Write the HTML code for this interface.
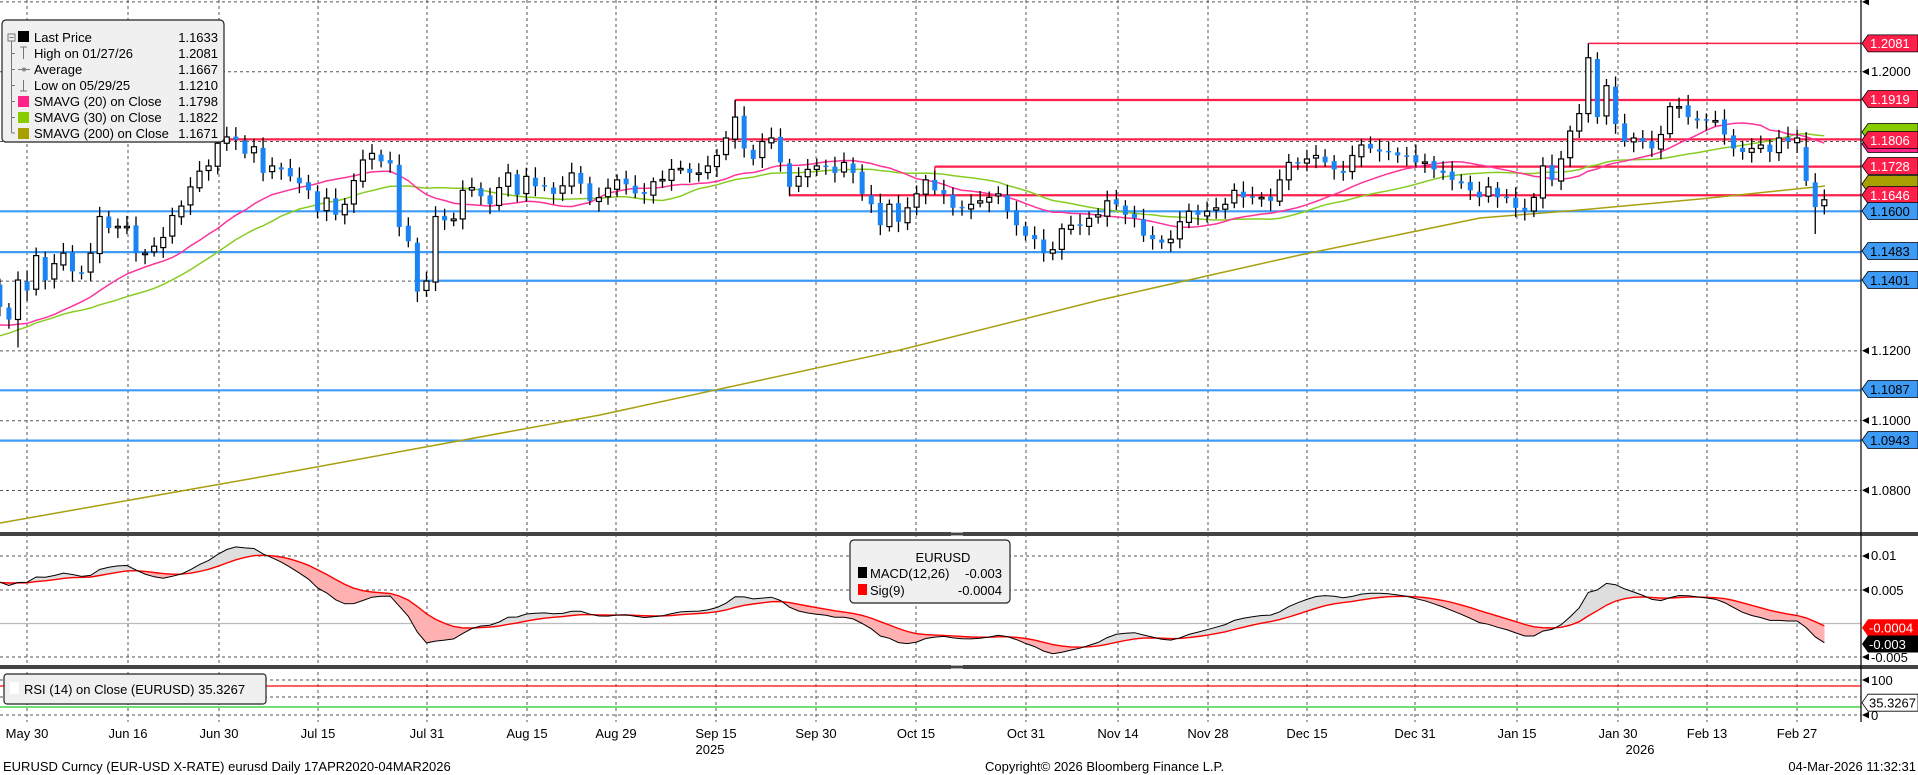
<!DOCTYPE html>
<html><head><meta charset="utf-8"><style>
html,body{margin:0;padding:0;background:#fff;}
svg{display:block;font-family:"Liberation Sans",sans-serif;}
</style></head><body>
<svg id="s" width="1918" height="775" viewBox="0 0 1918 775" xmlns="http://www.w3.org/2000/svg">
<rect x="0" y="0" width="1918" height="775" fill="#fff"/>
<g id="grid"></g>
<g id="levels"></g>
<g id="main"></g>
<g id="macd"></g>
<!-- separators -->
<rect x="0" y="532" width="1918" height="4" fill="#444"/>
<rect x="0" y="665" width="1918" height="4" fill="#444"/>
<g stroke="#aaa" stroke-width="1"><line x1="951" y1="532.5" x2="963" y2="532.5"/><line x1="951" y1="535.5" x2="963" y2="535.5"/><line x1="951" y1="665.5" x2="963" y2="665.5"/><line x1="951" y1="668.5" x2="963" y2="668.5"/></g>
<!-- RSI lines -->
<line x1="0" y1="686" x2="1861" y2="686" stroke="#ff0000" stroke-width="1.3"/>
<line x1="0" y1="707" x2="1861" y2="707" stroke="#22cc22" stroke-width="1.3"/>
<!-- right axis -->
<line x1="1861" y1="0" x2="1861" y2="722" stroke="#000" stroke-width="1.2"/>
<g fill="#000">
<polygon points="1862,1.9 1869,-1.5 1869,5.3"/>
<polygon points="1862,71.7 1869,68.3 1869,75.1"/>
<polygon points="1862,350.7 1869,347.3 1869,354.1"/>
<polygon points="1862,420.5 1869,417.1 1869,423.9"/>
<polygon points="1862,490.3 1869,486.9 1869,493.7"/>
<polygon points="1862,556 1869,552.6 1869,559.4"/>
<polygon points="1862,590 1869,586.6 1869,593.4"/>
<polygon points="1862,657 1869,653.6 1869,660.4"/>
<polygon points="1862,680 1869,676.6 1869,683.4"/>
<polygon points="1862,715 1869,711.6 1869,718.4"/>
</g>
<g font-size="13" fill="#000">
<text x="1871" y="76">1.2000</text>
<text x="1871" y="355">1.1200</text>
<text x="1871" y="425">1.1000</text>
<text x="1871" y="495">1.0800</text>
<text x="1871" y="560">0.01</text>
<text x="1871" y="595">0.005</text>
<text x="1871" y="662">-0.005</text>
<text x="1871" y="685">100</text>
<text x="1871" y="720">0</text>
</g>
<!-- tags -->
<g font-size="13">
<polygon points="1862,132 1868,123.5 1918,123.5 1918,140.5 1868,140.5" fill="#88cc00" stroke="#000" stroke-width="0.8"/>
<polygon points="1862,144 1868,135.5 1918,135.5 1918,152.5 1868,152.5" fill="#ff2288" stroke="#000" stroke-width="0.8"/>
<polygon points="1862,184 1868,175.5 1918,175.5 1918,192.5 1868,192.5" fill="#a8a000" stroke="#000" stroke-width="0.8"/>
<g fill="#ff1f4b" stroke="#000" stroke-width="0.8">
<polygon points="1862,43.4 1868,34.9 1918,34.9 1918,51.9 1868,51.9"/>
<polygon points="1862,99 1868,90.5 1918,90.5 1918,107.5 1868,107.5"/>
<polygon points="1862,140 1868,131.5 1918,131.5 1918,148.5 1868,148.5"/>
<polygon points="1862,166 1868,157.5 1918,157.5 1918,174.5 1868,174.5"/>
<polygon points="1862,195 1868,186.5 1918,186.5 1918,203.5 1868,203.5"/>
</g>
<g fill="#3d9bf5" stroke="#000" stroke-width="0.8">
<polygon points="1862,211 1868,202.5 1918,202.5 1918,219.5 1868,219.5"/>
<polygon points="1862,251 1868,242.5 1918,242.5 1918,259.5 1868,259.5"/>
<polygon points="1862,280 1868,271.5 1918,271.5 1918,288.5 1868,288.5"/>
<polygon points="1862,389 1868,380.5 1918,380.5 1918,397.5 1868,397.5"/>
<polygon points="1862,440 1868,431.5 1918,431.5 1918,448.5 1868,448.5"/>
</g>
<g fill="#fff">
<text x="1870" y="48">1.2081</text>
<text x="1870" y="104">1.1919</text>
<text x="1870" y="145">1.1806</text>
<text x="1870" y="171">1.1728</text>
<text x="1870" y="200">1.1646</text>
</g>
<g fill="#000">
<text x="1870" y="216">1.1600</text>
<text x="1870" y="256">1.1483</text>
<text x="1870" y="285">1.1401</text>
<text x="1870" y="394">1.1087</text>
<text x="1870" y="445">1.0943</text>
</g>
<polygon points="1862,627.7 1868,619.2 1918,619.2 1918,636.2 1868,636.2" fill="#ff0000"/>
<text x="1869" y="632.5" fill="#fff">-0.0004</text>
<polygon points="1862,644 1868,635.5 1918,635.5 1918,652.5 1868,652.5" fill="#000"/>
<text x="1869" y="649" fill="#fff">-0.003</text>
<polygon points="1862,702.7 1868,694.2 1918,694.2 1918,711.2 1868,711.2" fill="#fff" stroke="#000" stroke-width="0.8"/>
<text x="1869" y="707.5" fill="#000">35.3267</text>
</g>
<!-- main legend -->
<rect x="2" y="20" width="222" height="122" rx="4" fill="#f0f0f0" stroke="#222" stroke-width="1.2"/>
<g stroke="#777" stroke-width="1" fill="none">
<rect x="8" y="34" width="7" height="7"/><line x1="9.5" y1="37.5" x2="13.5" y2="37.5"/>
<line x1="11.5" y1="41" x2="11.5" y2="133"/>
<line x1="11.5" y1="53.5" x2="15" y2="53.5"/><line x1="11.5" y1="69.5" x2="15" y2="69.5"/>
<line x1="11.5" y1="85.5" x2="15" y2="85.5"/><line x1="11.5" y1="101.5" x2="15" y2="101.5"/>
<line x1="11.5" y1="117.5" x2="15" y2="117.5"/><line x1="11.5" y1="133" x2="15" y2="133"/>
<line x1="23.5" y1="47" x2="23.5" y2="59"/><line x1="20" y1="47" x2="27" y2="47"/>
<line x1="18" y1="69.5" x2="30" y2="69.5"/><circle cx="24" cy="69.5" r="1.5"/>
<line x1="23.5" y1="80" x2="23.5" y2="91"/><line x1="20" y1="91" x2="27" y2="91"/>
</g>
<rect x="18" y="31" width="11" height="11" fill="#000"/>
<rect x="18" y="96" width="11" height="11" fill="#ff2288"/>
<rect x="18" y="112" width="11" height="11" fill="#88cc00"/>
<rect x="18" y="128" width="11" height="11" fill="#a8a000"/>
<g font-size="13" fill="#000">
<text x="34" y="42">Last Price</text><text x="218" y="42" text-anchor="end">1.1633</text>
<text x="34" y="58">High on 01/27/26</text><text x="218" y="58" text-anchor="end">1.2081</text>
<text x="34" y="74">Average</text><text x="218" y="74" text-anchor="end">1.1667</text>
<text x="34" y="90">Low on 05/29/25</text><text x="218" y="90" text-anchor="end">1.1210</text>
<text x="34" y="106">SMAVG (20)  on Close</text><text x="218" y="106" text-anchor="end">1.1798</text>
<text x="34" y="122">SMAVG (30)  on Close</text><text x="218" y="122" text-anchor="end">1.1822</text>
<text x="34" y="138">SMAVG (200)  on Close</text><text x="218" y="138" text-anchor="end">1.1671</text>
</g>
<!-- MACD legend -->
<rect x="850" y="540" width="160" height="63" rx="4" fill="#f0f0f0" stroke="#222" stroke-width="1.2"/>
<g font-size="13" fill="#000">
<text x="943" y="562" text-anchor="middle">EURUSD</text>
<rect x="858" y="567" width="9" height="11" fill="#000"/>
<text x="870" y="578">MACD(12,26)</text><text x="1002" y="578" text-anchor="end">-0.003</text>
<rect x="858" y="584" width="9" height="11" fill="#ff0000"/>
<text x="870" y="595">Sig(9)</text><text x="1002" y="595" text-anchor="end">-0.0004</text>
</g>
<!-- RSI legend -->
<rect x="4" y="674" width="262" height="30" rx="3" fill="#f0f0f0" stroke="#222" stroke-width="1.2"/>
<rect x="10" y="682" width="9" height="12" fill="#fff"/>
<text x="24" y="694" font-size="13" fill="#000">RSI (14)  on Close (EURUSD) 35.3267</text>
<!-- date labels -->
<g font-size="13" fill="#000" text-anchor="middle">
<text x="27" y="738">May 30</text><text x="128" y="738">Jun 16</text><text x="219" y="738">Jun 30</text>
<text x="318" y="738">Jul 15</text><text x="427" y="738">Jul 31</text><text x="527" y="738">Aug 15</text>
<text x="616" y="738">Aug 29</text><text x="716" y="738">Sep 15</text><text x="816" y="738">Sep 30</text>
<text x="916" y="738">Oct 15</text><text x="1026" y="738">Oct 31</text><text x="1118" y="738">Nov 14</text>
<text x="1208" y="738">Nov 28</text><text x="1307" y="738">Dec 15</text><text x="1415" y="738">Dec 31</text>
<text x="1517" y="738">Jan 15</text><text x="1618" y="738">Jan 30</text><text x="1707" y="738">Feb 13</text>
<text x="1797" y="738">Feb 27</text>
<text x="710" y="754">2025</text><text x="1640" y="754">2026</text>
</g>
<g font-size="13" fill="#000">
<text x="3" y="771">EURUSD Curncy (EUR-USD X-RATE) eurusd Daily 17APR2020-04MAR2026</text>
<text x="985" y="771">Copyright© 2026 Bloomberg Finance L.P.</text>
<text x="1916" y="771" text-anchor="end">04-Mar-2026 11:32:31</text>
</g>
</svg>
<script>
(function(){
var NS="http://www.w3.org/2000/svg";
function el(p,t,a){var e=document.createElementNS(NS,t);for(var k in a)e.setAttribute(k,a[k]);p.appendChild(e);return e;}
var G=document.getElementById('grid'),L=document.getElementById('levels'),M=document.getElementById('main'),C=document.getElementById('macd');
function py(p){return 71.7+(1.2-p)*3490;}
function my(m){return 623.5-m*6740;}
// grid
var gx=[27,128,219,318,427,527,616,716,816,916,1026,1118,1208,1307,1415,1517,1618,1707,1797];
var ga={stroke:"#555","stroke-width":1,"stroke-dasharray":"3,3"};
gx.forEach(function(x){el(G,'line',Object.assign({x1:x,y1:0,x2:x,y2:722},ga));});
[1.22,1.20,1.18,1.16,1.14,1.12,1.10,1.08].forEach(function(p){el(G,'line',Object.assign({x1:0,y1:py(p),x2:1861,y2:py(p)},ga));});
[556,590,657,680,697,715].forEach(function(y){el(G,'line',Object.assign({x1:0,y1:y,x2:1861,y2:y},ga));});
el(G,'line',{x1:0,y1:623.5,x2:1861,y2:623.5,stroke:"#bbb","stroke-width":1.2});
// dates
var days=[];var d=new Date(Date.UTC(2025,3,1));var end=Date.UTC(2026,2,4);
while(d.getTime()<=end){var w=d.getUTCDay();if(w>0&&w<6)days.push(new Date(d.getTime()));d=new Date(d.getTime()+86400000);}
function key(dt){return dt.getUTCFullYear()+"-"+(dt.getUTCMonth()+1)+"-"+dt.getUTCDate();}
var idx={};days.forEach(function(dt,i){idx[key(dt)]=i;});
var i29=idx["2025-5-29"];
function xi(i){return 18+(i-i29)*9.077;}
var A=[["2025-4-1",1.080],["2025-4-20",1.136],["2025-5-1",1.134],["2025-5-12",1.118],["2025-5-20",1.127],["2025-5-26",1.138],
["2025-5-27",1.1326],["2025-5-28",1.129],["2025-5-29",1.1403],["2025-5-30",1.1373],["2025-6-2",1.1473],["2025-6-3",1.1402],["2025-6-4",1.145],["2025-6-5",1.148],["2025-6-6",1.1428],["2025-6-9",1.1424],["2025-6-10",1.148],["2025-6-11",1.1585],["2025-6-12",1.1552],["2025-6-13",1.1557],["2025-6-16",1.1557],["2025-6-17",1.148],["2025-6-18",1.148],["2025-6-19",1.150],["2025-6-20",1.1525],["2025-6-23",1.1588],["2025-6-24",1.1615],["2025-6-25",1.167],["2025-6-26",1.1715],["2025-6-27",1.173],["2025-6-30",1.1795],["2025-7-1",1.1813],["2025-7-2",1.1805],["2025-7-3",1.1765],["2025-7-4",1.1785],["2025-7-7",1.171],["2025-7-8",1.173],["2025-7-9",1.172],["2025-7-10",1.170],["2025-7-11",1.168],["2025-7-14",1.166],["2025-7-15",1.160],["2025-7-16",1.1638],["2025-7-17",1.159],["2025-7-18",1.162],["2025-7-21",1.1688],["2025-7-22",1.1747],["2025-7-23",1.1766],["2025-7-24",1.1743],["2025-7-25",1.1737],["2025-7-28",1.1555],["2025-7-29",1.1514],["2025-7-30",1.137],["2025-7-31",1.140],["2025-8-1",1.1585],["2025-8-4",1.1574],["2025-8-5",1.1578],["2025-8-6",1.166],["2025-8-7",1.1668],["2025-8-8",1.1643],["2025-8-11",1.162],["2025-8-12",1.1668],["2025-8-13",1.171],["2025-8-14",1.1647],
["2025-8-15",1.170],["2025-8-20",1.165],["2025-8-22",1.171],["2025-8-26",1.163],["2025-8-29",1.169],["2025-9-3",1.165],["2025-9-8",1.172],["2025-9-10",1.171],["2025-9-12",1.173],["2025-9-15",1.176],["2025-9-16",1.181],["2025-9-17",1.187],["2025-9-18",1.178],["2025-9-19",1.175],["2025-9-22",1.180],["2025-9-23",1.181],["2025-9-24",1.174],["2025-9-25",1.167],["2025-9-26",1.170],["2025-9-29",1.172],["2025-9-30",1.173],["2025-10-1",1.173],["2025-10-2",1.171],["2025-10-3",1.174],["2025-10-6",1.171],["2025-10-7",1.165],["2025-10-8",1.162],["2025-10-9",1.156],["2025-10-10",1.162],["2025-10-13",1.157],["2025-10-14",1.161],["2025-10-15",1.165],["2025-10-16",1.169],["2025-10-17",1.166],["2025-10-20",1.165],["2025-10-21",1.161],["2025-10-22",1.161],["2025-10-23",1.162],["2025-10-24",1.163],["2025-10-27",1.164],["2025-10-28",1.165],["2025-10-29",1.160],["2025-10-30",1.156],["2025-10-31",1.153],["2025-11-3",1.152],["2025-11-4",1.148],["2025-11-5",1.149],["2025-11-6",1.155],["2025-11-7",1.156],["2025-11-10",1.156],["2025-11-11",1.158],["2025-11-12",1.159],["2025-11-13",1.163],["2025-11-14",1.162],["2025-11-17",1.159],["2025-11-18",1.158],["2025-11-19",1.153],["2025-11-20",1.152],["2025-11-21",1.151],["2025-11-24",1.152],["2025-11-25",1.157],["2025-11-26",1.160],["2025-11-27",1.159],["2025-11-28",1.160],["2025-12-1",1.161],["2025-12-2",1.162],["2025-12-3",1.166],["2025-12-4",1.164],["2025-12-5",1.164],["2025-12-8",1.164],["2025-12-9",1.163],["2025-12-10",1.169],["2025-12-11",1.174],["2025-12-12",1.174],["2025-12-15",1.175],["2025-12-16",1.176],["2025-12-17",1.174],["2025-12-18",1.172],["2025-12-19",1.171],["2025-12-22",1.176],["2025-12-23",1.179],["2025-12-24",1.178],["2025-12-26",1.177],["2025-12-29",1.176],["2025-12-30",1.176],["2025-12-31",1.174],["2026-1-2",1.172],["2026-1-5",1.171],["2026-1-6",1.169],["2026-1-7",1.168],["2026-1-8",1.166],["2026-1-9",1.164],["2026-1-12",1.167],["2026-1-13",1.164],["2026-1-14",1.164],
["2026-1-15",1.161],["2026-1-16",1.160],["2026-1-19",1.164],["2026-1-20",1.173],["2026-1-21",1.169],["2026-1-22",1.175],["2026-1-23",1.183],["2026-1-26",1.188],["2026-1-27",1.204],["2026-1-28",1.187],["2026-1-29",1.196],["2026-1-30",1.185],["2026-2-2",1.180],["2026-2-3",1.181],["2026-2-4",1.180],["2026-2-5",1.178],["2026-2-6",1.182],["2026-2-9",1.190],["2026-2-10",1.190],["2026-2-11",1.187],["2026-2-12",1.186],["2026-2-13",1.186],["2026-2-16",1.186],["2026-2-17",1.182],["2026-2-18",1.178],["2026-2-19",1.177],["2026-2-20",1.178],["2026-2-23",1.179],["2026-2-24",1.177],["2026-2-25",1.181],["2026-2-26",1.180],["2026-2-27",1.181],["2026-3-2",1.1687],["2026-3-3",1.1612],["2026-3-4",1.1633]];
var ak=[],av=[];A.forEach(function(a){if(idx[a[0]]!==undefined){ak.push(idx[a[0]]);av.push(a[1]);}});
var N=days.length,cl=new Array(N);
for(var j=0;j<ak.length;j++){cl[ak[j]]=av[j];if(j>0){var a0=ak[j-1],a1=ak[j];for(var k=a0+1;k<a1;k++){var t=(k-a0)/(a1-a0);cl[k]=av[j-1]+(av[j]-av[j-1])*t+0.0012*Math.sin(k*1.7);}}}
for(var k=0;k<ak[0];k++)cl[k]=av[0];
// SMA
function sma(n){var r=[];for(var i=0;i<N;i++){if(i<n-1){r.push(null);continue;}var s=0;for(var q=i-n+1;q<=i;q++)s+=cl[q];r.push(s/n);}return r;}
var s20=sma(20),s30=sma(30);
var iStart=idx["2025-5-27"];
function poly(arr,col,w){var pts=[];for(var i=iStart;i<N;i++)if(arr[i]!=null)pts.push(xi(i).toFixed(1)+","+py(arr[i]).toFixed(1));el(M,'polyline',{points:pts.join(" "),fill:"none",stroke:col,"stroke-width":w});}
// SMA200 hand drawn
el(M,'polyline',{points:"0,523 300,470 600,415 900,350 1100,300 1300,255 1480,218 1580,210 1700,199 1825,186",fill:"none",stroke:"#a8a010","stroke-width":1.5});
poly(s30,"#88cc22",1.5);poly(s20,"#ff3399",1.5);
// level lines
function hl(p,x0,col,w){el(L,'line',{x1:x0,y1:py(p),x2:1861,y2:py(p),stroke:col,"stroke-width":w});}
hl(1.1600,0,"#3d9bf5",2.2);hl(1.1483,0,"#3d9bf5",2.2);hl(1.1401,xi(idx["2025-7-30"])-3,"#3d9bf5",2.2);hl(1.1087,0,"#3d9bf5",2.2);hl(1.0943,0,"#3d9bf5",2.2);
var R="#ff1f4b";
hl(1.2081,xi(idx["2026-1-27"]),R,1.5);
hl(1.1919,xi(idx["2025-9-17"]),R,2.2);
hl(1.1806,xi(idx["2025-7-1"]),R,2.2);
hl(1.1728,xi(idx["2025-10-17"]),R,2.2);
hl(1.1646,xi(idx["2025-9-25"]),R,2.2);
el(L,'line',{x1:xi(idx["2025-9-17"]),y1:py(1.1919),x2:xi(idx["2025-9-17"]),y2:py(1.186),stroke:R,"stroke-width":1.5});
el(L,'line',{x1:xi(idx["2025-10-17"]),y1:py(1.1728),x2:xi(idx["2025-10-17"]),y2:py(1.167),stroke:R,"stroke-width":1.5});
el(L,'line',{x1:xi(idx["2025-9-25"]),y1:py(1.1646),x2:xi(idx["2025-9-25"]),y2:py(1.170),stroke:R,"stroke-width":1.5});
// candles
for(var i=iStart;i<N;i++){
 var c=cl[i],o=cl[i-1]+0.0004*Math.sin(i*2.9);
 var hi=Math.max(o,c)+0.0012+0.0018*Math.abs(Math.sin(i*2.3));
 var lo=Math.min(o,c)-0.0012-0.0018*Math.abs(Math.cos(i*1.9));
 var kk=key(days[i]);
 if(kk=="2025-5-29"){lo=1.121;o=1.129;}
 if(kk=="2025-5-27")o=1.139;
 if(kk=="2026-1-27"){hi=1.2081;o=1.188;}
 if(kk=="2026-1-26")o=1.183;
 if(kk=="2025-9-17")hi=1.1919;
 if(kk=="2026-3-3")lo=1.1535;
 if(kk=="2026-3-2")o=1.1784;
 var x=xi(i);
 el(M,'line',{x1:x,y1:py(hi),x2:x,y2:py(lo),stroke:"#000","stroke-width":1.3});
 var top=py(Math.max(o,c)),h=Math.max(1.5,Math.abs(py(o)-py(c)));
 if(c>=o)el(M,'rect',{x:x-2.5,y:top,width:5,height:h,fill:"#fff",stroke:"#000","stroke-width":1.2});
 else el(M,'rect',{x:x-2.5,y:top,width:5,height:h,fill:"#1a84f5"});
}
// MACD
function ema(src,n){var a=2/(n+1),r=[src[0]];for(var i=1;i<src.length;i++)r.push(a*src[i]+(1-a)*r[i-1]);return r;}
var e12=ema(cl,12),e26=ema(cl,26),md=[];for(var i=0;i<N;i++)md.push(e12[i]-e26[i]);
var sg=ema(md,9);
for(var i=iStart;i<N-1;i++){
 var up=(md[i]+md[i+1])>(sg[i]+sg[i+1]);
 el(C,'polygon',{points:[xi(i),my(md[i]),xi(i+1),my(md[i+1]),xi(i+1),my(sg[i+1]),xi(i),my(sg[i])].map(function(v){return v.toFixed(1);}).join(" "),fill:up?"#dedede":"#ffb0b0",stroke:up?"#dedede":"#ffb0b0","stroke-width":0.5});
}
var pm=[],ps=[];for(var i=iStart;i<N;i++){pm.push(xi(i).toFixed(1)+","+my(md[i]).toFixed(1));ps.push(xi(i).toFixed(1)+","+my(sg[i]).toFixed(1));}
el(C,'polyline',{points:ps.join(" "),fill:"none",stroke:"#ff0000","stroke-width":1.4});
el(C,'polyline',{points:pm.join(" "),fill:"none",stroke:"#000","stroke-width":1});
})();
</script>
</body></html>
